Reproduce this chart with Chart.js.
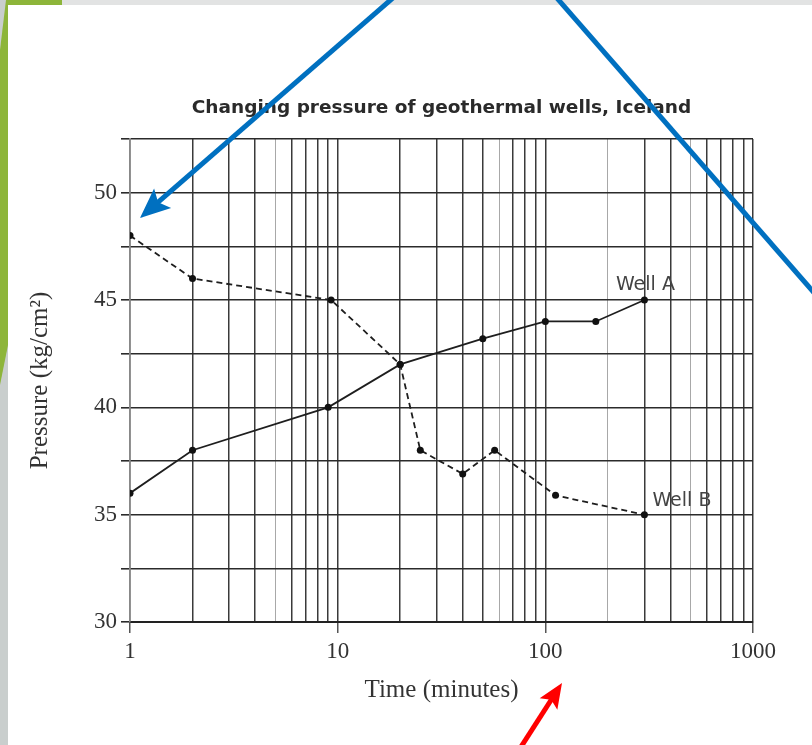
<!DOCTYPE html>
<html><head><meta charset="utf-8">
<script src="https://cdn.jsdelivr.net/npm/chart.js@4/dist/chart.umd.min.js"></script>
<style>html,body{margin:0;padding:0;background:#fff;overflow:hidden}canvas{display:block}</style>
</head><body>
<canvas id="c" width="812" height="745"></canvas>
<script>
// ---- chart content ----
const titleText = 'Changing pressure of geothermal wells, Iceland';
const xAxisTitle = 'Time (minutes)';
const yAxisTitle = 'Pressure (kg/cm\u00B2)';
const seriesNames = ['Well A', 'Well B'];
const wellATime = [1, 2, 9, 20, 50, 100, 175, 300];
const wellAPressure = [36, 38, 40, 42, 43.2, 44, 44, 45];
const wellBTime = [1, 2, 9.3, 20, 25, 40, 57, 112, 300];
const wellBPressure = [48, 46, 45, 42, 38, 36.9, 38, 35.9, 35];
const xGridValues = [1,2,3,4,5,6,7,8,9,10,20,30,40,50,60,70,80,90,100,200,300,400,500,600,700,800,900,1000];
const xTickLabels = [1, 10, 100, 1000];
const yTickLabels = [30, 35, 40, 45, 50];

// ---- styling ----
const lightGrid = [5, 60, 200, 500];
const serif = '"Liberation Serif", "Times New Roman", serif';
const sans = '"DejaVu Sans", sans-serif';

const backdrop = {
  id: 'backdrop',
  beforeDraw(chart) {
    const ctx = chart.ctx, W = chart.width, H = chart.height;
    ctx.save();
    ctx.fillStyle = '#ffffff'; ctx.fillRect(0, 0, W, H);
    ctx.fillStyle = '#e2e3e3'; ctx.fillRect(0, 0, W, 5);
    ctx.fillStyle = '#c9cecd'; ctx.fillRect(0, 0, 8, H);
    ctx.fillStyle = '#8db53a';
    ctx.fillRect(8, 0, 54, 5);
    ctx.beginPath();
    ctx.moveTo(6, 0); ctx.lineTo(8, 0); ctx.lineTo(8, 345); ctx.lineTo(0, 385); ctx.lineTo(0, 50);
    ctx.closePath(); ctx.fill();
    ctx.restore();
  }
};

function drawArrow(ctx, x1, y1, x2, y2, color, w, headLen, headW, withHead) {
  const a = Math.atan2(y2 - y1, x2 - x1), c = Math.cos(a), s = Math.sin(a);
  ctx.save();
  ctx.strokeStyle = color; ctx.fillStyle = color; ctx.lineWidth = w; ctx.lineCap = 'butt';
  ctx.beginPath(); ctx.moveTo(x1, y1);
  if (withHead) ctx.lineTo(x2 - c * headLen * 0.7, y2 - s * headLen * 0.7); else ctx.lineTo(x2, y2);
  ctx.stroke();
  if (withHead) {
    const bx = x2 - c * headLen, by = y2 - s * headLen;
    ctx.beginPath();
    ctx.moveTo(x2, y2);
    ctx.lineTo(bx - s * headW / 2, by + c * headW / 2);
    ctx.lineTo(x2 - c * headLen * 0.8, y2 - s * headLen * 0.8);
    ctx.lineTo(bx + s * headW / 2, by - c * headW / 2);
    ctx.closePath(); ctx.fill();
  }
  ctx.restore();
}

const overlay = {
  id: 'overlay',
  afterDraw(chart) {
    const ctx = chart.ctx, x = chart.scales.x, y = chart.scales.y;
    ctx.save();
    ctx.font = '19px ' + sans;
    ctx.fillStyle = '#444';
    ctx.textBaseline = 'middle';
    ctx.textAlign = 'center';
    ctx.fillText(seriesNames[0], x.getPixelForValue(wellATime[wellATime.length - 1]) + 1,
                 y.getPixelForValue(wellAPressure[wellAPressure.length - 1]) - 15);
    ctx.textAlign = 'left';
    ctx.fillText(seriesNames[1], x.getPixelForValue(wellBTime[wellBTime.length - 1]) + 8,
                 y.getPixelForValue(wellBPressure[wellBPressure.length - 1]) - 14);
    ctx.restore();
    drawArrow(ctx, 394, -3, 140, 218, '#0070c0', 5, 30, 26, true);
    drawArrow(ctx, 556, -3, 816, 295, '#0070c0', 5, 0, 0, false);
    drawArrow(ctx, 519, 750, 562, 683, '#ff0000', 5, 25, 21, true);
  }
};

const toPts = (xs, ys) => xs.map((t, i) => ({ x: t, y: ys[i] }));

new Chart(document.getElementById('c'), {
  type: 'line',
  data: {
    datasets: [
      { label: seriesNames[0], data: toPts(wellATime, wellAPressure), borderColor: '#1e1e1e', borderWidth: 1.8,
        pointRadius: 3.5, pointBackgroundColor: '#111', pointBorderWidth: 0, tension: 0, fill: false },
      { label: seriesNames[1], data: toPts(wellBTime, wellBPressure), borderColor: '#1e1e1e', borderWidth: 1.8,
        borderDash: [6, 4], pointRadius: 3.5, pointBackgroundColor: '#111', pointBorderWidth: 0, tension: 0, fill: false }
    ]
  },
  options: {
    responsive: false,
    animation: false,
    layout: { padding: { top: 0, right: 59, bottom: 0, left: 0 } },
    plugins: {
      legend: { display: false },
      tooltip: { enabled: false },
      title: { display: true, text: titleText, fullSize: false, color: '#2a2a2a',
               font: { family: sans, size: 18.5, weight: 'bold' }, padding: { top: 97, bottom: 19.8 } }
    },
    scales: {
      x: {
        type: 'logarithmic', min: 1, max: 1000,
        afterBuildTicks(s) { s.ticks = xGridValues.map(v => ({ value: v })); },
        afterFit(s) { s.height = 123; },
        ticks: { autoSkip: false, maxRotation: 0, minRotation: 0, padding: 5, color: '#333',
                 font: { family: serif, size: 23 },
                 callback: v => xTickLabels.includes(v) ? String(v) : '' },
        grid: {
          color: c => (c.tick && lightGrid.includes(c.tick.value)) ? '#a8a8a8' : '#3a3a3a',
          lineWidth: c => (c.tick && lightGrid.includes(c.tick.value)) ? 1 : 1.5,
          tickLength: 11,
          tickColor: c => (c.tick && xTickLabels.includes(c.tick.value)) ? '#555' : 'rgba(0,0,0,0)'
        },
        border: { display: true, color: '#222', width: 2 },
        title: { display: true, text: xAxisTitle, color: '#333', font: { family: serif, size: 25 },
                 padding: { top: 0, bottom: 40 } }
      },
      y: {
        min: 30, max: 52.5,
        afterFit(s) { s.width = 130; },
        ticks: { stepSize: 2.5, padding: 4, color: '#333', font: { family: serif, size: 23 },
                 callback: v => yTickLabels.includes(v) ? String(v) : '' },
        grid: { color: '#2b2b2b', lineWidth: 1.6, tickLength: 9 },
        border: { display: true, color: '#888', width: 1.5 },
        title: { display: true, text: yAxisTitle, color: '#333', font: { family: serif, size: 25 },
                 padding: { top: 25, bottom: 0 } }
      }
    }
  },
  plugins: [backdrop, overlay]
});
</script>
</body></html>
